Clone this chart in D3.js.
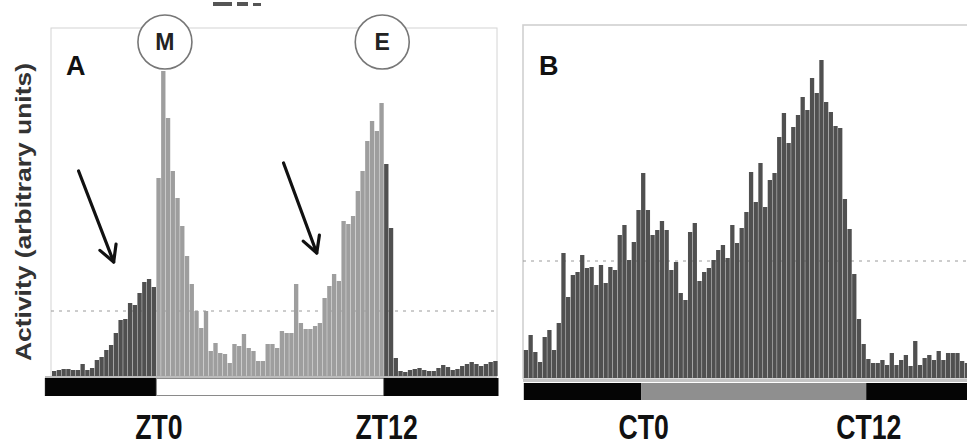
<!DOCTYPE html>
<html><head><meta charset="utf-8">
<script src="https://cdn.jsdelivr.net/npm/d3@7"></script>
<style>
html,body{margin:0;padding:0;background:#fff;}
svg{display:block;}
</style></head>
<body>
<script>
// ---------- DATA ----------
// Panel A: 15-min bins, ZT -5.5 .. ZT 18 (LD)
const startA = -5.5;
const activityA = [5,6,7,7,6,6,12,6,8,16,19,26,31,43,56,57,73,71,83,94,97,89,
  198,305,258,205,178,150,120,92,65,48,65,25,33,23,22,13,32,30,42,28,25,15,15,32,32,28,45,43,43,92,53,47,47,50,53,78,90,102,95,155,152,160,185,205,235,255,245,273,
  212,148,18,5,4,6,7,8,6,5,5,8,11,9,6,7,10,12,14,12,10,12,14,15];
// Panel B: 15-min bins, CT -6.25 .. CT 17.5 (DD)
const startB = -6.25;
const activityB = [28,43,26,16,41,48,28,55,125,81,
  103,106,123,110,111,93,113,95,111,108,
  143,153,118,136,168,205,168,143,148,157,
  148,108,116,85,78,146,155,97,106,110,
  118,128,133,120,153,135,150,166,206,176,
  215,171,198,205,241,265,235,251,263,281,
  268,300,285,318,276,266,252,250,179,149,
  104,59,34,19,15,15,18,13,25,13,
  18,23,12,37,13,20,23,18,27,18,
  25,25,25,17,15];
const binHours = 0.25;
const ticksA = [0, 12], ticksB = [0, 12];
const tickPrefixA = "ZT", tickPrefixB = "CT";
const phasesA = [{from:-5.85,to:0,kind:"dark"},{from:0,to:12,kind:"light"},{from:12,to:18,kind:"dark"}];
const phasesB = [{from:-6.25,to:0,kind:"dark"},{from:0,to:12,kind:"subj"},{from:12,to:17.6,kind:"dark"}];
const gridA = 65, gridB = 117;
const peakLabels = [{label:"M", hour:0.45}, {label:"E", hour:11.9}];
const arrowsA = [{from:[-4.1,205], to:[-2.25,114]}, {from:[6.7,213], to:[8.45,123]}];
const yLabel = "Activity (arbitrary units)";

// ---------- DRAW ----------
const W = 967, H = 446;
const svg = d3.select("body").append("svg").attr("width", W).attr("height", H);

const xA = d3.scaleLinear().domain([startA, startA + activityA.length*binHours]).range([52, 498]);
const yA = d3.scaleLinear().domain([0, 350]).range([376, 26]);
const xB = d3.scaleLinear().domain([startB, startB + activityB.length*binHours]).range([523.8, 969.4]);
const yB = d3.scaleLinear().domain([0, 350]).range([378, 28]);

const DARK = "#505050", LIGHT = "#9e9e9e";

// frames
svg.append("rect").attr("x",51).attr("y",28).attr("width",446).attr("height",348)
  .attr("fill","none").attr("stroke","#d4d4d4").attr("stroke-width",1);
svg.append("rect").attr("x",523).attr("y",25).attr("width",470).attr("height",353)
  .attr("fill","none").attr("stroke","#d0d0d0").attr("stroke-width",1.6);

// grid lines (dotted)
svg.append("line").attr("x1",51).attr("x2",497).attr("y1",yA(gridA)).attr("y2",yA(gridA))
  .attr("stroke","#9a9a9a").attr("stroke-width",1).attr("stroke-dasharray","3,5");
svg.append("line").attr("x1",523).attr("x2",967).attr("y1",yB(gridB)).attr("y2",yB(gridB))
  .attr("stroke","#9a9a9a").attr("stroke-width",1).attr("stroke-dasharray","3,5");

// bars A
const bwA = xA(binHours) - xA(0);
svg.append("g").selectAll("rect").data(activityA).join("rect")
  .attr("x",(d,i)=>xA(startA + i*binHours))
  .attr("width", bwA - 0.4)
  .attr("y", d=>yA(d))
  .attr("height", d=>yA(0)-yA(d))
  .attr("fill",(d,i)=>{const h = startA + i*binHours; return (h>=0 && h<12) ? LIGHT : DARK;});

// bars B
const bwB = xB(binHours) - xB(0);
svg.append("g").selectAll("rect").data(activityB).join("rect")
  .attr("x",(d,i)=>xB(startB + i*binHours))
  .attr("width", bwB - 0.4)
  .attr("y", d=>yB(d))
  .attr("height", d=>yB(0)-yB(d))
  .attr("fill", DARK);

// baselines
svg.append("rect").attr("x",45).attr("y",376).attr("width",452).attr("height",2).attr("fill","#bdbdbd");
svg.append("rect").attr("x",523).attr("y",379).attr("width",444).attr("height",3).attr("fill","#c4c4c4");

// LD bars
svg.append("g").selectAll("rect").data(phasesA).join("rect")
  .attr("x",d=>xA(d.from)).attr("width",d=>xA(d.to)-xA(d.from))
  .attr("y",378.5).attr("height",17)
  .attr("fill",d=>d.kind==="dark"?"#050505":"#fff")
  .attr("stroke",d=>d.kind==="dark"?"#050505":"#8a8a8a").attr("stroke-width",1);
svg.append("g").selectAll("rect").data(phasesB).join("rect")
  .attr("x",d=>xB(d.from)).attr("width",d=>xB(d.to)-xB(d.from))
  .attr("y",383).attr("height",17)
  .attr("fill",d=>d.kind==="dark"?"#050505":"#8f8f8f");

// tick labels (condensed bold)
const tickFont = "'Liberation Sans',Arial,sans-serif";
const axA = svg.append("g").attr("transform","translate(2,402)")
  .call(d3.axisBottom(xA).tickValues(ticksA).tickSize(0).tickFormat(d=>tickPrefixA+d));
const axB = svg.append("g").attr("transform","translate(2,402)")
  .call(d3.axisBottom(xB).tickValues(ticksB).tickSize(0).tickFormat(d=>tickPrefixB+d));
[axA, axB].forEach(ax=>{
  ax.select(".domain").remove();
  ax.selectAll("text").attr("dy",0).attr("y",37)
    .attr("font-family",tickFont).attr("font-weight","bold").attr("font-size",36)
    .attr("fill","#111").attr("transform","scale(0.74,1)");
});

// y label
svg.append("text").attr("transform","translate(31,212) rotate(-90)")
  .attr("text-anchor","middle").attr("font-family","'Liberation Sans',Arial,sans-serif")
  .attr("font-weight","bold").attr("font-size",22).attr("fill","#333")
  .attr("textLength",298).attr("lengthAdjust","spacingAndGlyphs")
  .text(yLabel);

// panel letters
svg.append("text").attr("x",66).attr("y",75).attr("font-family","'Liberation Sans',Arial,sans-serif")
  .attr("font-weight","bold").attr("font-size",27).attr("fill","#111").text("A");
svg.append("text").attr("x",539).attr("y",75).attr("font-family","'Liberation Sans',Arial,sans-serif")
  .attr("font-weight","bold").attr("font-size",27).attr("fill","#111").text("B");

// peak circles
const pg = svg.append("g").selectAll("g").data(peakLabels).join("g")
  .attr("transform",d=>`translate(${xA(d.hour)},42)`);
pg.append("circle").attr("r",27).attr("fill","#fff").attr("stroke","#777").attr("stroke-width",1.6);
pg.append("text").attr("text-anchor","middle").attr("dy","0.36em")
  .attr("font-family","'Liberation Sans',Arial,sans-serif").attr("font-weight","bold")
  .attr("font-size",23).attr("fill","#222").text(d=>d.label);

// arrows
const ag = svg.append("g").attr("stroke","#111").attr("stroke-width",3.2).attr("fill","none")
  .attr("stroke-linecap","round");
arrowsA.forEach(a=>{
  const x1 = xA(a.from[0]), y1 = yA(a.from[1]), x2 = xA(a.to[0]), y2 = yA(a.to[1]);
  ag.append("line").attr("x1",x1).attr("y1",y1).attr("x2",x2).attr("y2",y2);
  const ang = Math.atan2(y2-y1, x2-x1), L = 18, sp = 0.5;
  const w1 = [x2 - L*Math.cos(ang - sp), y2 - L*Math.sin(ang - sp)];
  const w2 = [x2 - L*Math.cos(ang + sp), y2 - L*Math.sin(ang + sp)];
  ag.append("path").attr("d",`M${w1[0]},${w1[1]}L${x2},${y2}L${w2[0]},${w2[1]}`)
    .attr("stroke-linejoin","round");
});

// clipped remnants of a heading at the very top edge
svg.append("g").attr("fill","#555").selectAll("rect")
  .data([[213,2,19,4],[237,2,11,4],[253,3,8,3]]).join("rect")
  .attr("x",d=>d[0]).attr("y",d=>d[1]).attr("width",d=>d[2]).attr("height",d=>d[3]);
</script>
</body></html>
